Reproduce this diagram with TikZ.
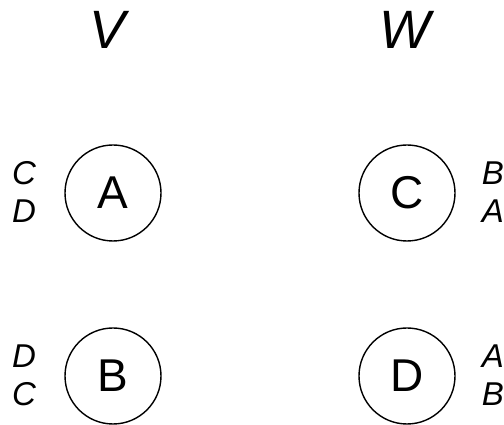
\documentclass[tikz,border=0pt]{standalone}
\usepackage{fontspec}
\setmainfont{Liberation Sans}
\usetikzlibrary{positioning}
\tikzset{
  agent/.style={draw, circle, line width=1.4pt, minimum size=96pt, inner sep=0pt,
                font=\fontsize{46}{46}\selectfont},
  side/.style={font=\fontsize{54}{54}\selectfont\itshape},
  pref/.style={align=center, font=\fontsize{33}{38}\selectfont\itshape}
}

\begin{document}
\begin{tikzpicture}[x=1pt,y=1pt]

    \useasboundingbox (0,0) rectangle (504,425);

    % the two sides
    \node[side] (V) at (108,395) {V};
    \node[side] (W) at (405,395) {W};

    % agents
    \node[agent] (A) at (113,232) {A};
    \node[agent] (B) at (113,49) {B};
    \node[agent] (C) at (407,232) {C};
    \node[agent] (D) at (407,49) {D};

    % preference lists
    \node[pref] (prefA) at (24,233) {C\\D};
    \node[pref] (prefB) at (24,50) {D\\C};
    \node[pref] (prefC) at (493,233) {B\\A};
    \node[pref] (prefD) at (493,50) {A\\B};

\end{tikzpicture}
\end{document}
